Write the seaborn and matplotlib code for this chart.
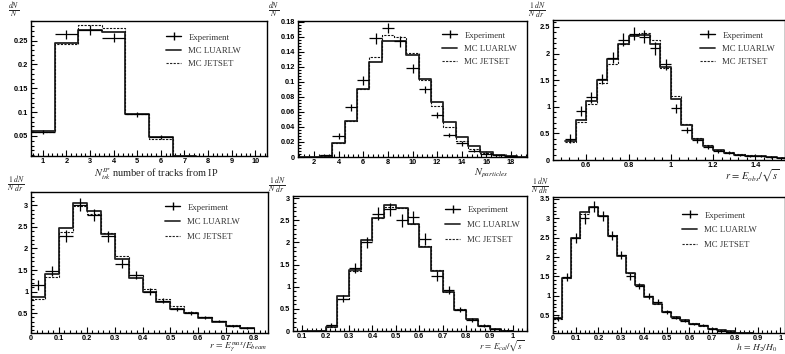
import numpy as np
import pandas as pd
import matplotlib
matplotlib.use("Agg")
import matplotlib.pyplot as plt
import seaborn as sns
from matplotlib.ticker import AutoMinorLocator, MultipleLocator
from matplotlib.lines import Line2D

sns.set_style("ticks")
plt.rcParams["mathtext.fontset"] = "stix"
plt.rcParams["font.family"] = ["Liberation Serif", "DejaVu Serif"]

# ---------------- data ----------------
# Panel 1: number of tracks from IP (bins centred on 1..10)
p1_edges = [0.5, 1.5, 2.5, 3.5, 4.5, 5.5, 6.5, 7.5, 8.5, 9.5, 10.5]
p1_luarlw = [0.060, 0.245, 0.273, 0.268, 0.097, 0.047, 0.007, 0.0, 0.0, 0.0]
p1_jetset = [0.058, 0.242, 0.282, 0.277, 0.095, 0.043, 0.006, 0.0, 0.0, 0.0]
p1_exp = [0.058, 0.263, 0.272, 0.256, 0.095, 0.047, 0.006, 0.0, 0.0, 0.0]
p1_err = [0.004, 0.010, 0.010, 0.010, 0.005, 0.004, 0.001, 0.0, 0.0, 0.0]

# Panel 2: number of particles (bins centred on integers)
p2_edges = [0.5, 1.5, 2.5, 3.5, 4.5, 5.5, 6.5, 7.5, 8.5, 9.5, 10.5, 11.5, 12.5,
            13.5, 14.5, 15.5, 16.5, 17.5, 18.5, 19.5]
p2_luarlw = [0.0, 0.0, 0.001, 0.018, 0.048, 0.090, 0.127, 0.155, 0.155, 0.136,
             0.104, 0.073, 0.046, 0.026, 0.014, 0.007, 0.003, 0.001, 0.0]
p2_jetset = [0.0, 0.0, 0.001, 0.018, 0.048, 0.091, 0.133, 0.162, 0.160, 0.139,
             0.102, 0.068, 0.040, 0.021, 0.010, 0.005, 0.002, 0.001, 0.0]
p2_exp = [0.0, 0.0, 0.002, 0.028, 0.066, 0.102, 0.158, 0.172, 0.154, 0.118,
          0.090, 0.056, 0.029, 0.018, 0.008, 0.004, 0.002, 0.001, 0.0]
p2_err = [0.0, 0.0, 0.001, 0.004, 0.005, 0.006, 0.007, 0.007, 0.007, 0.006,
          0.005, 0.004, 0.003, 0.003, 0.002, 0.001, 0.001, 0.001, 0.0]

# Panel 3: r = E_obs / sqrt(s)
p3_edges = [0.50, 0.55, 0.60, 0.65, 0.70, 0.75, 0.80, 0.85, 0.90, 0.95, 1.00,
            1.05, 1.10, 1.15, 1.20, 1.25, 1.30, 1.35, 1.40, 1.45, 1.50, 1.55]
p3_luarlw = [0.35, 0.75, 1.10, 1.50, 1.90, 2.18, 2.33, 2.35, 2.18, 1.75,
             1.15, 0.65, 0.40, 0.27, 0.18, 0.14, 0.10, 0.08, 0.07, 0.05, 0.04]
p3_jetset = [0.33, 0.72, 1.05, 1.45, 1.80, 2.18, 2.35, 2.38, 2.25, 1.72,
             1.20, 0.68, 0.42, 0.28, 0.19, 0.15, 0.11, 0.09, 0.08, 0.06, 0.04]
p3_exp = [0.40, 0.92, 1.18, 1.52, 1.92, 2.26, 2.37, 2.32, 2.10, 1.80,
          0.97, 0.56, 0.37, 0.24, 0.16, 0.14, 0.10, 0.08, 0.07, 0.05, 0.04]
p3_err = [0.08, 0.10, 0.10, 0.10, 0.10, 0.12, 0.12, 0.12, 0.12, 0.10,
          0.08, 0.06, 0.05, 0.04, 0.03, 0.03, 0.02, 0.02, 0.02, 0.02, 0.01]

# Panel 4: r = E_gamma^max / E_beam
p4_edges = [0.0, 0.05, 0.10, 0.15, 0.20, 0.25, 0.30, 0.35, 0.40, 0.45, 0.50,
            0.55, 0.60, 0.65, 0.70, 0.75, 0.80]
p4_luarlw = [0.88, 1.40, 2.48, 3.05, 2.88, 2.33, 1.75, 1.32, 0.98, 0.77, 0.60,
             0.50, 0.38, 0.30, 0.20, 0.15]
p4_jetset = [0.83, 1.35, 2.38, 2.98, 2.80, 2.35, 1.82, 1.38, 1.05, 0.82, 0.66,
             0.52, 0.40, 0.32, 0.22, 0.16]
p4_exp = [1.15, 1.48, 2.28, 3.02, 2.78, 2.28, 1.65, 1.38, 1.00, 0.79, 0.60,
          0.50, 0.40, 0.32, 0.20, 0.15]
p4_err = [0.12, 0.12, 0.14, 0.15, 0.14, 0.12, 0.11, 0.09, 0.08, 0.06, 0.05,
          0.04, 0.04, 0.03, 0.03, 0.02]

# Panel 5: r = E_cal / sqrt(s)
p5_edges = [0.10, 0.15, 0.20, 0.25, 0.30, 0.35, 0.40, 0.45, 0.50, 0.55, 0.60,
            0.65, 0.70, 0.75, 0.80, 0.85, 0.90, 0.95, 1.00]
p5_luarlw = [0.0, 0.01, 0.10, 0.78, 1.38, 2.05, 2.56, 2.85, 2.78, 2.42, 1.90,
             1.35, 0.87, 0.48, 0.27, 0.12, 0.04, 0.01]
p5_jetset = [0.0, 0.01, 0.09, 0.73, 1.35, 2.00, 2.55, 2.80, 2.78, 2.42, 1.92,
             1.38, 0.88, 0.50, 0.26, 0.13, 0.05, 0.02]
p5_exp = [0.0, 0.01, 0.14, 0.73, 1.43, 2.00, 2.65, 2.75, 2.50, 2.57, 2.08,
          1.25, 0.92, 0.48, 0.25, 0.12, 0.04, 0.01]
p5_err = [0.0, 0.01, 0.04, 0.08, 0.11, 0.13, 0.15, 0.15, 0.15, 0.15, 0.14,
          0.11, 0.09, 0.06, 0.04, 0.03, 0.02, 0.01]

# Panel 6: h = H2 / H0
p6_edges = [0.0, 0.04, 0.08, 0.12, 0.16, 0.20, 0.24, 0.28, 0.32, 0.36, 0.40,
            0.44, 0.48, 0.52, 0.56, 0.60, 0.64, 0.68, 0.72, 0.76, 0.80, 0.84, 0.88]
p6_luarlw = [0.42, 1.47, 2.50, 3.15, 3.28, 3.05, 2.55, 2.02, 1.58, 1.27, 0.98,
             0.78, 0.58, 0.45, 0.37, 0.28, 0.22, 0.15, 0.11, 0.08, 0.05, 0.03]
p6_jetset = [0.40, 1.45, 2.48, 3.12, 3.30, 3.07, 2.57, 2.05, 1.60, 1.28, 1.00,
             0.80, 0.60, 0.46, 0.38, 0.29, 0.23, 0.16, 0.12, 0.08, 0.05, 0.03]
p6_exp = [0.42, 1.48, 2.48, 3.00, 3.30, 3.05, 2.55, 2.05, 1.50, 1.25, 1.00,
          0.85, 0.58, 0.44, 0.36, 0.28, 0.25, 0.14, 0.10, 0.07, 0.05, 0.03]
p6_err = [0.06, 0.10, 0.13, 0.14, 0.14, 0.13, 0.12, 0.11, 0.09, 0.08, 0.07,
          0.06, 0.05, 0.04, 0.03, 0.03, 0.03, 0.02, 0.02, 0.02, 0.01, 0.01]

legend_labels = ["Experiment", "MC LUARLW", "MC JETSET"]

# ---------------- layout ----------------
W, H = 785, 354
fig = plt.figure(figsize=(W / 100, H / 100), dpi=100)


def add_ax(left, top, right, bottom):
    return fig.add_axes([left / W, 1 - bottom / H, (right - left) / W, (bottom - top) / H])


panels = [
    dict(box=(31, 21, 267, 156), edges=p1_edges, lu=p1_luarlw, js=p1_jetset, ex=p1_exp, er=p1_err,
         xlim=(0.5, 10.5), ylim=(0.008, 0.291), xmaj=1, ymaj=0.05,
         ylabel=r"$\frac{dN}{N}$", ylab_xy=(14, 10),
         xlabel=r"$N_{trk}^{IP}$ number of tracks from IP", xlab_xy=(156, 174), xlab_ha="center",
         xlab_size=7.5, leg_xy=(162, 29)),
    dict(box=(298, 21, 527, 157), edges=p2_edges, lu=p2_luarlw, js=p2_jetset, ex=p2_exp, er=p2_err,
         xlim=(0.7, 19.3), ylim=(0.0, 0.181), xmaj=2, ymaj=0.02,
         ylabel=r"$\frac{dN}{N}$", ylab_xy=(274, 10),
         xlabel=r"$N_{particles}$", xlab_xy=(508, 173), xlab_ha="right",
         xlab_size=7.5, leg_xy=(438, 27)),
    dict(box=(553, 20, 785, 160), edges=p3_edges, lu=p3_luarlw, js=p3_jetset, ex=p3_exp, er=p3_err,
         xlim=(0.443, 1.54), ylim=(0.0, 2.63), xmaj=0.2, ymaj=0.5,
         ylabel=r"$\frac{1}{N}\frac{dN}{dr}$", ylab_xy=(537, 11),
         xlabel=r"$r\,=\,E_{obs}/\sqrt{s}$", xlab_xy=(780, 176), xlab_ha="right",
         xlab_size=7.5, leg_xy=(696, 27)),
    dict(box=(31, 192, 268, 333), edges=p4_edges, lu=p4_luarlw, js=p4_jetset, ex=p4_exp, er=p4_err,
         xlim=(0.0, 0.85), ylim=(0.04, 3.31), xmaj=0.1, ymaj=0.5,
         ylabel=r"$\frac{1}{N}\frac{dN}{dr}$", ylab_xy=(16, 185),
         xlabel=r"$r\,=\,E_{\gamma}^{max}/E_{beam}$", xlab_xy=(267, 354), xlab_ha="right",
         xlab_size=6.8, leg_xy=(161, 199)),
    dict(box=(293, 196, 527, 331), edges=p5_edges, lu=p5_luarlw, js=p5_jetset, ex=p5_exp, er=p5_err,
         xlim=(0.061, 1.06), ylim=(0.0, 3.05), xmaj=0.1, ymaj=0.5,
         ylabel=r"$\frac{1}{N}\frac{dN}{dr}$", ylab_xy=(277, 186),
         xlabel=r"$r\,=\,E_{cal}/\sqrt{s}$", xlab_xy=(524, 354), xlab_ha="right",
         xlab_size=6.3, leg_xy=(441, 202)),
    dict(box=(553, 197, 785, 333), edges=p6_edges, lu=p6_luarlw, js=p6_jetset, ex=p6_exp, er=p6_err,
         xlim=(0.0, 1.02), ylim=(0.04, 3.55), xmaj=0.1, ymaj=0.5,
         ylabel=r"$\frac{1}{N}\frac{dN}{dh}$", ylab_xy=(540, 187),
         xlabel=r"$h\,=\,H_2/H_0$", xlab_xy=(777, 354), xlab_ha="right",
         xlab_size=6.8, leg_xy=(678, 207)),
]

tick_font = dict(family="Liberation Sans", weight="bold", size=5.3)

for i, p in enumerate(panels):
    ax = add_ax(*p["box"])
    edges = [float(e) for e in p["edges"]]
    e_arr = np.array(edges)
    centers = (e_arr[:-1] + e_arr[1:]) / 2
    widths = np.diff(e_arr)
    df = pd.DataFrame({"x": centers, "lu": p["lu"], "js": p["js"],
                       "ex": p["ex"], "er": p["er"], "w": widths})

    sns.histplot(x=df["x"], weights=df["lu"], bins=edges, element="step", fill=False,
                 color="#222222", linewidth=1.3, ax=ax)
    sns.histplot(x=df["x"], weights=df["js"], bins=edges, element="step", fill=False,
                 color="#111111", linewidth=0.8, linestyle=(0, (2, 1.2)), ax=ax)
    d = df[df["ex"] > 0]
    ax.errorbar(d["x"], d["ex"], xerr=d["w"] / 2, yerr=d["er"], fmt="none",
                ecolor="black", elinewidth=0.9, capsize=0)

    ax.set_xlim(*p["xlim"])
    ax.set_ylim(*p["ylim"])
    ax.set_xlabel("")
    ax.set_ylabel("")
    ax.xaxis.set_major_locator(MultipleLocator(p["xmaj"]))
    ax.yaxis.set_major_locator(MultipleLocator(p["ymaj"]))
    ax.xaxis.set_minor_locator(AutoMinorLocator(5))
    ax.yaxis.set_minor_locator(AutoMinorLocator(5))
    ax.tick_params(which="both", direction="in", top=False, right=False, pad=2,
                   width=0.8, colors="black")
    ax.tick_params(axis="x", pad=1.5)
    ax.tick_params(which="major", length=4)
    ax.tick_params(which="minor", length=2)
    xt = [t for t in ax.get_xticks() if p["xlim"][0] - 1e-9 <= t <= p["xlim"][1] + 1e-9]
    ax.set_xticks(xt)
    ax.set_xticklabels(["{:g}".format(round(t, 3)) for t in xt], **tick_font)
    yt = [t for t in ax.get_yticks() if p["ylim"][0] - 1e-9 <= t <= p["ylim"][1] + 1e-9]
    ax.set_yticks(yt)
    ax.set_yticklabels(["{:g}".format(round(t, 3)) for t in yt], **tick_font)
    ax.set_xlim(*p["xlim"])
    ax.set_ylim(*p["ylim"])
    for s in ax.spines.values():
        s.set_linewidth(1.0)
        s.set_color("black")

    handles = [
        Line2D([], [], color="black", marker="|", markersize=6, linewidth=1.0),
        Line2D([], [], color="#333333", linewidth=1.3),
        Line2D([], [], color="#222222", linewidth=0.8, linestyle=(0, (2, 1.2))),
    ]
    lx, ly = p["leg_xy"]
    fig.legend(handles, legend_labels, loc="upper left",
               bbox_to_anchor=(lx / W, 1 - ly / H), frameon=False,
               prop=dict(family="Liberation Serif", size=6.3), labelcolor="#333333",
               handlelength=1.7, handletextpad=0.8,
               labelspacing=0.75 if i >= 3 else 0.6, borderpad=0)

    fig.text(p["ylab_xy"][0] / W, 1 - p["ylab_xy"][1] / H, p["ylabel"], fontsize=8,
             ha="center", va="center")
    fig.text(p["xlab_xy"][0] / W, 1 - p["xlab_xy"][1] / H, p["xlabel"],
             fontsize=p["xlab_size"], ha=p["xlab_ha"],
             va="bottom" if i >= 3 else "center", color="#222222")

fig.savefig("out.png", dpi=100)
